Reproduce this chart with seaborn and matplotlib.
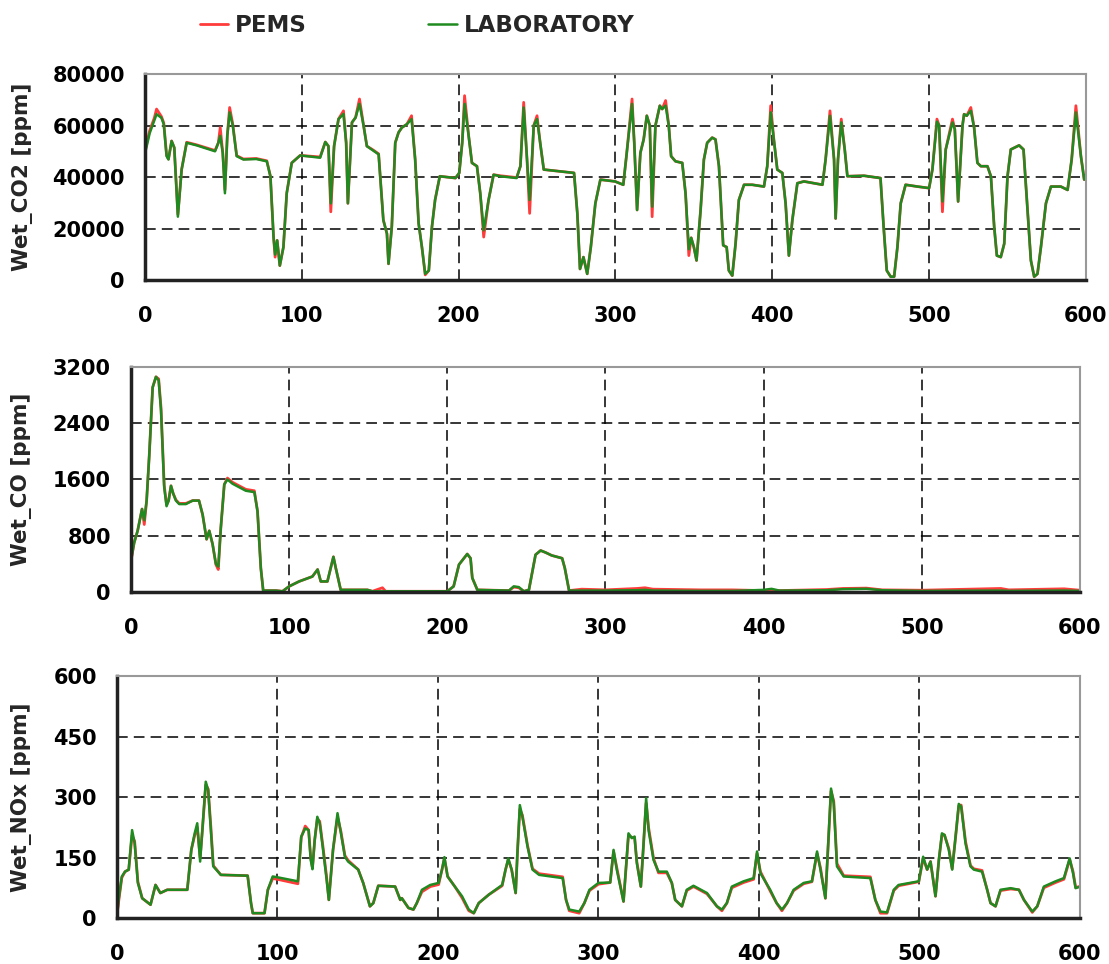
import numpy as np
import pandas as pd
import matplotlib
matplotlib.use("Agg")
import matplotlib.pyplot as plt
import seaborn as sns

# ---- data ----
co2_t = [0, 3, 6, 7.4, 10.5, 12, 13.8, 15, 17, 18.7, 21, 23.4, 26.6, 33, 44.7, 46.8, 48, 49.6, 51, 52.5,
         54, 56, 58.5, 62.8, 71, 77.7, 80, 82, 83, 84.3, 86, 88.3, 90.4, 93.6, 99, 111.7, 115, 117, 118.5, 120.6,
         123.4, 126.6, 128.3, 129.4, 132, 134.3, 136.8, 139.4, 141.5, 145, 149, 152, 154.3, 155.3, 157.4, 159.6,
         161.7, 163.8, 167, 170, 172.3, 174.5, 176.6, 178.7, 181, 183, 185, 188, 198, 200.4, 202.3, 203.8,
         206.4, 208.5, 211.7, 213.8, 216, 219.1, 222.3, 226.6, 237, 239.4, 241.5, 243.6, 245.3, 247.9, 250,
         252, 254.3, 273.6, 275.7, 277.4, 279.6, 282, 284.3, 287.2, 290.4, 299.7, 305, 307, 310.6, 312, 313.8,
         315.9, 318, 320, 321.9, 323.4, 325.5, 328.3, 329.8, 332, 334, 335.5, 338.3, 342.6, 344.7, 346.8,
         348.3, 350, 351.7, 354.3, 356.4, 358.5, 361.7, 363.8, 366, 368.7, 370.9, 372.3, 374.5, 376.6, 378.7,
         382, 387.2, 394.7, 396.8, 399, 401, 403.2, 406.4, 408.5, 410.6, 412.8, 416, 420.2, 432, 434, 436.8,
         439.4, 440.4, 441.9, 444, 446.2, 447.9, 458.5, 469, 471, 473, 475.5, 477.7, 479.8, 481.9, 485, 492.6,
         500, 502.1, 505, 506.4, 508.5, 510.6, 514.9, 516.4, 518.5, 521.3, 522.3, 524, 526.6, 528.7, 530.8,
         533, 537.2, 539.4, 541.5, 543.2, 545.7, 547.9, 550, 552.1, 557.4, 560.2, 562.8, 564.9, 567, 569.1,
         571.3, 574.5, 577.7, 584, 588.3, 590.9, 593.6, 596.8, 598.9, 600]
co2_lab = [49000, 57000, 62000, 64400, 63000, 60500, 48100, 46800, 54000, 51400, 24600, 42900, 53300, 52300,
           50000, 53300, 56000, 49400, 33700, 56000, 65100, 60000, 48100, 46800, 47000, 46100, 40300, 16700,
           9900, 15400, 5600, 12800, 33700, 45500, 48400, 47500, 53600, 52000, 29800, 52000, 62500, 64500,
           53300, 29800, 61200, 63100, 68400, 60000, 52000, 50500, 48800, 23300, 18000, 6300, 20700, 53300,
           57300, 59200, 60500, 62500, 46800, 22000, 12800, 2400, 3700, 20700, 31100, 40300, 39600, 41600,
           53300, 68400, 56000, 45500, 44200, 33700, 19300, 31100, 40900, 40300, 39600, 44200, 67000, 46800,
           31100, 60000, 62500, 53300, 42900, 41600, 25900, 4300, 8900, 2400, 12800, 29800, 39000, 38300,
           37000, 48100, 68400, 53300, 27200, 49400, 54600, 63800, 60000, 28500, 60000, 67700, 66400, 67700,
           60000, 48100, 46100, 45500, 33700, 12000, 16400, 12800, 7600, 27200, 46800, 53300, 55300, 54600,
           44200, 13500, 12800, 3700, 1700, 14100, 31100, 37000, 37000, 36300, 44200, 65100, 54600, 42900,
           41600, 29800, 9500, 23300, 37600, 38300, 37000, 46800, 63800, 46800, 23900, 46800, 61200, 50700,
           40300, 40500, 39600, 20700, 3700, 1300, 1300, 12800, 29800, 37000, 36300, 35700, 42900, 61500,
           60000, 30500, 50700, 61200, 58500, 30500, 60000, 64400, 63800, 65700, 59200, 45500, 44200, 44200,
           40300, 20700, 9500, 8900, 14100, 40300, 50700, 52300, 50700, 27200, 7600, 1300, 2400, 12800, 29800,
           36300, 36300, 35000, 46800, 65100, 48100, 39000, 40900]
co2_pems = [50000, 58000, 63000, 66400, 63500, 61000, 48500, 47000, 54000, 51400, 25500, 43000, 53500, 52500,
            50300, 53300, 59200, 49500, 35000, 56000, 67000, 60500, 48300, 47000, 47200, 46300, 40300, 16700,
            8900, 15400, 5600, 12800, 33700, 45500, 48400, 47800, 53600, 52000, 26500, 52000, 62500, 65700,
            53300, 29800, 61200, 63100, 70300, 60000, 52000, 50700, 49000, 23300, 18000, 6300, 20700, 53300,
            57300, 59200, 60500, 63800, 46800, 22000, 12800, 2000, 3700, 20700, 31100, 40300, 39600, 41600,
            53300, 71600, 56000, 45500, 44200, 33700, 16700, 31100, 40900, 40500, 39800, 44200, 69000, 46800,
            25900, 60000, 63800, 53300, 42900, 41600, 25900, 4300, 8900, 2400, 12800, 29800, 39000, 38300,
            37000, 48100, 70300, 53300, 27200, 49400, 54600, 63800, 60000, 24600, 60000, 67700, 66400, 69700,
            60000, 48100, 46100, 45500, 33700, 9500, 16400, 12800, 7600, 27200, 46800, 53300, 55300, 54600,
            44200, 13500, 12800, 3700, 1700, 14100, 31100, 37000, 37000, 36300, 44200, 67700, 54600, 42900,
            41600, 29800, 9500, 23300, 37600, 38300, 37000, 46800, 65700, 46800, 23900, 46800, 62500, 50700,
            40300, 40500, 39600, 20700, 3700, 1300, 1300, 12800, 29800, 37000, 36300, 35700, 42900, 62500,
            60000, 26500, 50700, 62500, 58500, 30500, 60000, 64400, 63800, 67000, 59200, 45500, 44200, 44200,
            40300, 20700, 9500, 8900, 14100, 40300, 50700, 52300, 50700, 27200, 7600, 1300, 2400, 12800, 29800,
            36300, 36300, 35000, 46800, 67700, 48100, 39000, 40900]

co_t = [0, 2, 4.2, 7, 8.4, 9.9, 11.6, 13.7, 15.8, 17.5, 19, 21, 22.5, 23.8, 25.3, 26.7, 28.4, 30.5, 34.7, 39,
        43, 45.3, 47.8, 49.5, 51.6, 53.7, 55.2, 56.8, 59, 61, 64.2, 68.4, 72.6, 78, 80, 82.1, 83.6, 91.6, 95.8,
        100, 106.3, 114.7, 118, 120, 124.2, 128, 129.5, 132.6, 149.5, 152.6, 159, 161, 200, 204, 207.4, 212.6,
        214.7, 215.8, 219, 239, 242, 245.2, 248.4, 251.6, 255.8, 259, 262.3, 266, 272.6, 274.3, 277, 285, 300,
        320, 325, 330, 360, 380, 400, 405, 410, 440, 450, 465, 475, 500, 550, 555, 590, 600]
co_lab = [440, 700, 870, 1180, 1020, 1300, 1960, 2910, 3060, 3010, 2580, 1490, 1220, 1300, 1510, 1400, 1300,
          1250, 1250, 1300, 1300, 1100, 750, 870, 680, 400, 360, 910, 1530, 1600, 1540, 1490, 1440, 1420, 1150,
          340, 20, 20, 10, 80, 150, 220, 320, 150, 150, 500, 340, 30, 30, 10, 10, 10, 10, 80, 390, 540, 480,
          200, 30, 20, 80, 70, 10, 30, 530, 590, 560, 520, 480, 340, 20, 20, 20, 25, 30, 20, 15, 15, 30, 45,
          20, 25, 40, 45, 25, 15, 20, 15, 20, 15]
co_pems = [440, 700, 870, 1180, 960, 1300, 1960, 2910, 3060, 3030, 2620, 1520, 1240, 1300, 1510, 1400, 1310,
           1260, 1260, 1300, 1300, 1100, 750, 870, 680, 390, 320, 910, 1530, 1620, 1560, 1510, 1460, 1440, 1150,
           340, 20, 20, 10, 80, 150, 220, 320, 150, 150, 500, 340, 30, 30, 10, 60, 10, 10, 80, 390, 540, 480,
           200, 30, 20, 70, 60, 10, 30, 530, 590, 560, 520, 480, 340, 20, 40, 30, 50, 60, 40, 30, 30, 20, 25,
           20, 35, 50, 55, 30, 25, 50, 30, 45, 25]

nox_t = [0, 1, 3, 5, 7.3, 9.4, 11, 13, 15.7, 20.9, 24, 27, 31.3, 43.8, 46.3, 48.4, 50, 51.8, 53.2, 55.3, 56.8,
         58.5, 60, 64.7, 81.4, 83.5, 84.6, 91.9, 94, 97, 100, 112.7, 114.8, 117.3, 119.4, 120.7, 121.8, 123.2,
         124.8, 126.3, 128.4, 130.5, 132, 134.6, 137.4, 139.5, 142, 144, 150.3, 153.4, 157.6, 159.7, 162.8,
         173.3, 176.5, 177.5, 181.6, 184.7, 186.8, 190, 195.2, 200.4, 202.5, 204, 206, 210.5, 215, 219.2, 222.3,
         225.4, 231.7, 240, 242.1, 243.8, 245.9, 248.4, 249.5, 251, 252.6, 255.8, 258.9, 263, 277.7, 279.8,
         281.8, 288, 291.2, 294.4, 300, 307.3, 309.4, 311.4, 315.6, 318.7, 320.8, 322.5, 323.9, 326.4, 328,
         329.7, 331.2, 334.3, 337.4, 342.6, 345.7, 347.8, 352, 355, 359.2, 367.6, 373.8, 376.9, 380, 383.1,
         390.4, 396.7, 398.8, 400.9, 407, 411, 414.3, 417.5, 421.6, 427.9, 433, 436.2, 438.3, 441.4, 443.4,
         444.9, 446.6, 448.6, 452.8, 469.4, 472.5, 475.7, 479.8, 484, 487, 499.6, 502.3, 504.8, 506.9, 510,
         512.1, 514, 515.6, 518.3, 520.4, 522.5, 524.5, 526, 528.7, 531.8, 533.9, 539, 542.2, 544.3, 547.4,
         550.5, 556.8, 562, 565.1, 570.3, 573.4, 577.5, 584.8, 590, 593.6, 595.7, 597.3, 600]
nox_lab = [4, 45, 103, 115, 120, 218, 185, 87, 49, 33, 82, 62, 70, 70, 169, 210, 235, 140, 218, 338, 317, 218,
           128, 107, 105, 37, 12, 12, 70, 103, 101, 91, 202, 222, 218, 144, 121, 194, 251, 235, 169, 99, 45,
           169, 260, 210, 152, 140, 120, 87, 29, 37, 80, 78, 45, 49, 25, 21, 37, 70, 82, 87, 120, 151, 103, 78,
           54, 21, 12, 37, 58, 82, 120, 148, 120, 62, 161, 280, 251, 177, 120, 107, 99, 45, 21, 16, 37, 70, 87,
           88, 169, 120, 41, 210, 198, 202, 136, 78, 177, 297, 218, 144, 115, 115, 87, 45, 29, 70, 80, 62, 29,
           21, 37, 78, 91, 99, 165, 111, 70, 37, 21, 37, 70, 87, 91, 165, 120, 49, 202, 321, 284, 128, 103, 99,
           45, 16, 14, 70, 82, 91, 152, 120, 140, 54, 144, 210, 206, 169, 120, 202, 283, 276, 185, 128, 120,
           115, 70, 37, 29, 70, 74, 70, 45, 16, 29, 78, 91, 99, 148, 111, 74, 78]
nox_pems = [8, 40, 100, 115, 120, 205, 190, 90, 49, 33, 82, 62, 70, 70, 169, 205, 225, 150, 218, 330, 320, 225,
            130, 107, 105, 37, 12, 12, 70, 98, 96, 85, 200, 228, 218, 150, 125, 194, 245, 240, 175, 105, 45,
            169, 250, 215, 155, 143, 120, 87, 29, 37, 80, 78, 45, 49, 25, 21, 37, 65, 78, 83, 120, 148, 103, 78,
            50, 18, 12, 37, 58, 80, 120, 145, 120, 62, 161, 270, 255, 180, 122, 110, 102, 45, 18, 12, 37, 68, 84,
            88, 165, 125, 41, 205, 200, 200, 140, 78, 177, 285, 225, 148, 112, 112, 87, 45, 29, 68, 78, 60, 29,
            18, 37, 75, 88, 96, 160, 115, 67, 37, 18, 37, 68, 85, 90, 160, 125, 49, 200, 315, 290, 135, 105, 102,
            45, 12, 12, 68, 80, 90, 148, 120, 140, 54, 144, 205, 206, 172, 122, 200, 278, 280, 190, 130, 122,
            118, 70, 37, 29, 68, 72, 70, 45, 14, 29, 75, 88, 96, 145, 115, 76, 78]

x_ticks = [0, 100, 200, 300, 400, 500, 600]
panels = [
    ("Wet_CO2 [ppm]", co2_t, co2_pems, co2_lab, [0, 20000, 40000, 60000, 80000]),
    ("Wet_CO [ppm]", co_t, co_pems, co_lab, [0, 800, 1600, 2400, 3200]),
    ("Wet_NOx [ppm]", nox_t, nox_pems, nox_lab, [0, 150, 300, 450, 600]),
]

# axes rectangles in figure fraction, and y label centre (axes fraction)
boxes = [
    [0.1307, 0.7095, 0.8485, 0.2137],
    [0.1181, 0.3859, 0.8557, 0.2334],
    [0.1055, 0.0477, 0.8683, 0.2510],
]
label_x = [-0.1297, -0.1149, -0.0987]

pems_color = "#ff3b3b"
lab_color = "#1f8a1f"

sns.set_style("white")
plt.rcParams["font.family"] = ["DejaVu Sans"]
plt.rcParams["font.weight"] = "bold"

fig = plt.figure(figsize=(11.09, 9.64), dpi=100)

for (ylabel, t, pems, lab, yticks), box, lx in zip(panels, boxes, label_x):
    ax = fig.add_axes(box)
    sns.lineplot(x=t, y=pems, ax=ax, color=pems_color, linewidth=2.0, sort=False, estimator=None,
                 label="PEMS")
    sns.lineplot(x=t, y=lab, ax=ax, color=lab_color, linewidth=1.8, sort=False, estimator=None,
                 label="LABORATORY")
    ax.set_xlim(0, 600)
    ax.set_ylim(yticks[0], yticks[-1])
    ax.set_xticks(x_ticks)
    ax.set_yticks(yticks)
    ax.set_ylabel(ylabel, fontsize=15.5, fontweight="bold", va="center")
    ax.yaxis.set_label_coords(lx, 0.5)
    ax.set_xlabel("")
    ax.grid(True, color="black", linestyle=(0, (7, 4)), linewidth=1.1)
    ax.tick_params(axis="both", direction="inout", length=11, width=1.5, labelsize=15, colors="black")
    ax.tick_params(axis="y", pad=9)
    ax.tick_params(axis="x", pad=13)
    for lbl in ax.get_xticklabels() + ax.get_yticklabels():
        lbl.set_fontweight("bold")
    for side in ["left", "bottom"]:
        ax.spines[side].set_color("#222222")
        ax.spines[side].set_linewidth(2.5)
    for side in ["top", "right"]:
        ax.spines[side].set_color("#999999")
        ax.spines[side].set_linewidth(1.5)
    handles, labels = ax.get_legend_handles_labels()
    ax.get_legend().remove()

fig.legend(handles, labels, loc="center left", bbox_to_anchor=(0.180, 0.974), ncol=2, frameon=False,
           handlelength=1.25, handletextpad=0.3, columnspacing=5.3, borderpad=0, borderaxespad=0,
           prop={"weight": "bold", "size": 16.5})

fig.savefig("out.png", dpi=100)
